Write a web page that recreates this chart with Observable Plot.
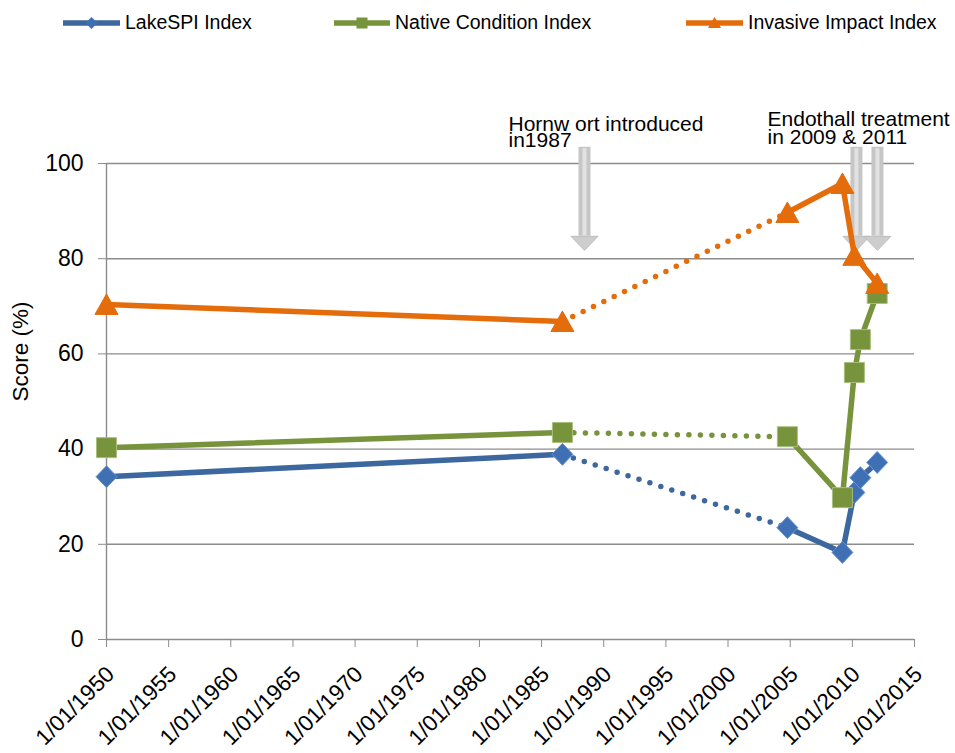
<!DOCTYPE html>
<html><head><meta charset="utf-8">
<script src="https://cdn.jsdelivr.net/npm/d3@7"></script>
<script src="https://cdn.jsdelivr.net/npm/@observablehq/plot@0.6"></script>
<style>
body{margin:0;background:#fff;font-family:"Liberation Sans",Arial,sans-serif;}
#legend{position:relative;height:45px;width:955px;}
.item{position:absolute;top:0;height:45px;display:flex;align-items:center;font-size:19.5px;color:#000;white-space:nowrap}
.item svg{margin-right:5px}
</style></head><body>
<div id="legend"></div>
<div id="chart"></div>
<script>
// ---- data ----
const dates = ["1950-01-01","1986-09-05","2004-10-10","2009-03-15","2010-03-01","2010-08-25","2012-01-01"];
const seriesNames = ["LakeSPI Index","Native Condition Index","Invasive Impact Index"];
const lakeSPI = [34.2, 38.9, 23.5, 18.3, 30.9, 34.0, 37.2];
const nativeCondition = [40.3, 43.5, 42.6, 29.8, 56.1, 63.0, 72.7];
const invasiveImpact = [70.4, 66.8, 89.7, 95.8, 80.7, null, 74.8];
const dottedFrom = 1; // segment between dates[1] and dates[2] is dotted
const xTickYears = [1950,1955,1960,1965,1970,1975,1980,1985,1990,1995,2000,2005,2010,2015];
const yTicks = [0,20,40,60,80,100];
const yTitle = "Score (%)";
const arrowDates = ["1988-06-15","2010-05-01","2012-01-08"];
const arrowTop = 103.4, arrowHeadBase = 84.7;
const annotations = [
  {date:"1982-05-05", value:109.4, text:"Hornw ort introduced\nin1987", lineHeight:0.8},
  {date:"2003-03-07", value:110.5, text:"Endothall treatment\nin 2009 & 2011", lineHeight:0.86}
];

// ---- styles ----
const lineColors = ["#3d679f","#77933c","#e46c0a"];
const markFill = ["#3f70b4","#77933c","#e46c0a"];
const markStroke = ["#6496d8","#a9bf7e","#e46c0a"];
const diamond = {draw(c){c.moveTo(0,-11);c.lineTo(10.5,0);c.lineTo(0,11);c.lineTo(-10.5,0);c.closePath();}};
const square = {draw(c){c.rect(-10,-10,20,20);}};
const triangle = {draw(c){c.moveTo(0,-10.5);c.lineTo(11.5,10);c.lineTo(-11.5,10);c.closePath();}};
const symbols = [diamond, square, triangle];
const arrowHead = {draw(c){c.moveTo(-13.5,0);c.lineTo(13.5,0);c.lineTo(0,14);c.closePath();}};

const valuesBySeries = [lakeSPI, nativeCondition, invasiveImpact];
const rows = valuesBySeries.flatMap((vals, s) => dates.map((d, i) => ({
  series: seriesNames[s], s, i, date: new Date(d), value: vals[i],
  seg: i <= dottedFrom ? "a" : "b"
}))).filter(r => r.value != null);
const tickDates = xTickYears.map(y => new Date(Date.UTC(y,0,1)));

const marks = [
  Plot.ruleY(yTicks, {stroke:"#8c8c8c", strokeWidth:1.4}),
  Plot.ruleX([new Date(dates[0])], {y1:0, y2:100, stroke:"#8c8c8c", strokeWidth:1.4}),
  Plot.axisY({ticks:yTicks, tickSize:8, tickPadding:15, stroke:"#8c8c8c", fontSize:23, label:null}),
  Plot.axisX({ticks:tickDates, tickFormat: () => "", tickSize:8, stroke:"#8c8c8c", label:null}),
  Plot.text(tickDates, {x:d=>d, frameAnchor:"bottom", text:d=>`1/01/${d.getUTCFullYear()}`, rotate:-45,
    textAnchor:"end", lineAnchor:"middle", dx:4, dy:31, fontSize:22.5, fill:"#000"}),
  Plot.text([yTitle], {frameAnchor:"left", dx:-86, rotate:-90, fontSize:22.5, text:d=>d}),
  // arrows
  Plot.ruleX(arrowDates.map(d=>new Date(d)), {y1:arrowTop, y2:arrowHeadBase, stroke:"#c6c6c6", strokeWidth:12}),
  Plot.ruleX(arrowDates.map(d=>new Date(d)), {y1:arrowTop-0.3, y2:arrowHeadBase, stroke:"#e2e2e2", strokeWidth:4}),
  Plot.dot(arrowDates.map(d=>new Date(d)), {x:d=>d, y:arrowHeadBase, symbol:arrowHead, r:10, fill:"#cdcdcd", stroke:"#bdbdbd", strokeWidth:1}),
  // annotations
  Plot.text(annotations.slice(0,1), {x:d=>new Date(d.date), y:"value", text:"text", textAnchor:"start", lineAnchor:"top", lineHeight:annotations[0].lineHeight, fontSize:21, fill:"#000"}),
  Plot.text(annotations.slice(1), {x:d=>new Date(d.date), y:"value", text:"text", textAnchor:"start", lineAnchor:"top", lineHeight:annotations[1].lineHeight, fontSize:21, fill:"#000"}),
];
seriesNames.forEach((name, s) => {
  const data = rows.filter(r => r.s === s);
  marks.push(
    Plot.line(data, {x:"date", y:"value", z:"seg", stroke:lineColors[s], strokeWidth:5.5, strokeLinejoin:"round"}),
    Plot.line(data.filter(r => r.i === dottedFrom || r.i === dottedFrom+1), {x:"date", y:"value", stroke:lineColors[s], strokeWidth:5.5, strokeDasharray:"0 11.5", strokeLinecap:"round"}),
    Plot.dot(data, {x:"date", y:"value", symbol:symbols[s], r:10, fill:markFill[s], stroke:markStroke[s], strokeWidth:1})
  );
});

const chart = Plot.plot({
  width:955, height:708,
  marginLeft:106, marginRight:41, marginTop:118, marginBottom:114,
  x:{type:"utc", domain:[new Date("1950-01-01"), new Date("2015-01-01")]},
  y:{domain:[0,100]},
  style:{fontFamily:"'Liberation Sans', Arial, sans-serif", color:"#000", background:"#fff", overflow:"visible"},
  marks
});
document.getElementById("chart").appendChild(chart);

// ---- legend ----
const legendPos = [[63,57],[334,56],[686,57]];
const legendMini = ['<path d="M0,-6L6,0L0,6L-6,0Z"/>','<rect x="-5.5" y="-5.5" width="11" height="11"/>','<path d="M0,-6L6.5,5L-6.5,5Z"/>'];
const legend = document.getElementById("legend");
seriesNames.forEach((name, s) => {
  const [x, w] = legendPos[s];
  const div = document.createElement("div");
  div.className = "item";
  div.style.left = x + "px";
  div.innerHTML = `<svg width="${w}" height="14" viewBox="0 -7 ${w} 14"><line x1="1" x2="${w-1}" y1="0" y2="0" stroke="${lineColors[s]}" stroke-width="5.5" stroke-linecap="round"/><g transform="translate(${w/2},0)" fill="${markFill[s]}">${legendMini[s]}</g></svg><span>${name}</span>`;
  legend.appendChild(div);
});
</script>
</body></html>
